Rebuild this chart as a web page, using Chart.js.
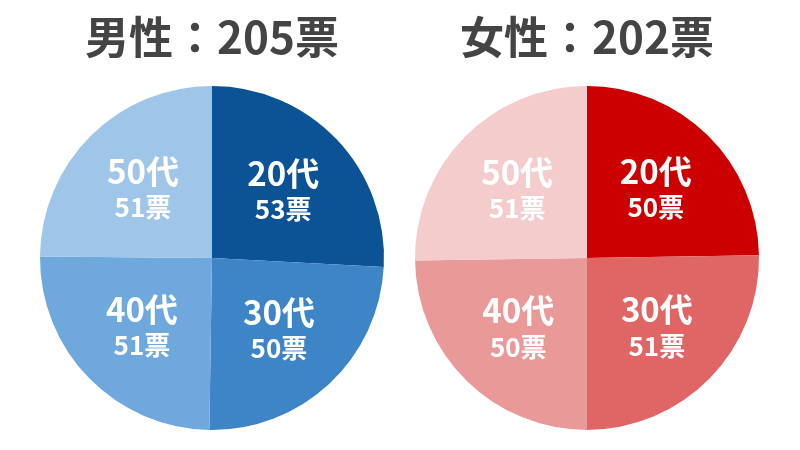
<!DOCTYPE html>
<html>
<head>
<meta charset="utf-8">
<script src="https://cdn.jsdelivr.net/npm/chart.js@4"></script>
<style>
  html, body { margin: 0; padding: 0; background: #fff; }
  #wrap { width: 800px; height: 450px; display: flex; }
  canvas { display: block; }
</style>
</head>
<body>
<div id="wrap">
  <canvas id="male" width="400" height="450"></canvas>
  <canvas id="female" width="400" height="450"></canvas>
</div>
<script>
// data
const ageGroups = ['20代', '30代', '40代', '50代'];
const maleVotes = [53, 50, 51, 51];
const femaleVotes = [50, 51, 50, 51];
const maleTitle = '男性：205票';
const femaleTitle = '女性：202票';

const maleColors = ['#0b5394', '#3d85c6', '#6fa8dc', '#9fc5e8'];
const femaleColors = ['#cc0000', '#e06666', '#ea9999', '#f4cccc'];

const FONT = '"Noto Sans CJK JP", "Noto Sans", sans-serif';

// draws "20代 / 53票" inside each slice
const sliceLabels = {
    id: 'sliceLabels',
    afterDatasetsDraw(chart) {
        const ctx = chart.ctx;
        const meta = chart.getDatasetMeta(0);
        const values = chart.data.datasets[0].data;
        ctx.save();
        ctx.fillStyle = '#fff';
        ctx.textAlign = 'center';
        ctx.textBaseline = 'middle';
        meta.data.forEach((arc, i) => {
            const p = arc.getProps(['x', 'y', 'startAngle', 'endAngle', 'outerRadius'], true);
            const mid = (p.startAngle + p.endAngle) / 2;
            const r = p.outerRadius * 0.57;
            const cx = p.x + Math.cos(mid) * r;
            const cy = p.y + Math.sin(mid) * r;
            ctx.font = 'bold 33px ' + FONT;
            ctx.fillText(chart.data.labels[i], cx, cy - 17);
            ctx.font = 'bold 26px ' + FONT;
            ctx.fillText(values[i] + '票', cx, cy + 19);
        });
        ctx.restore();
    }
};

function makePie(id, votes, colors, title, padLeft, padRight) {
    return new Chart(document.getElementById(id), {
        type: 'pie',
        data: {
            labels: ageGroups,
            datasets: [{
                data: votes,
                backgroundColor: colors,
                borderWidth: 0
            }]
        },
        options: {
            responsive: false,
            animation: false,
            layout: {
                padding: { left: padLeft, right: padRight, top: 0, bottom: 20 }
            },
            plugins: {
                legend: { display: false },
                tooltip: { enabled: false },
                title: {
                    display: true,
                    text: title,
                    color: '#444',
                    font: { family: FONT, size: 44, weight: 'bold', lineHeight: 1.2 },
                    padding: { top: 11, bottom: 22 }
                }
            }
        },
        plugins: [sliceLabels]
    });
}

makePie('male', maleVotes, maleColors, maleTitle, 40, 16);
makePie('female', femaleVotes, femaleColors, femaleTitle, 15, 41);
</script>
</body>
</html>
